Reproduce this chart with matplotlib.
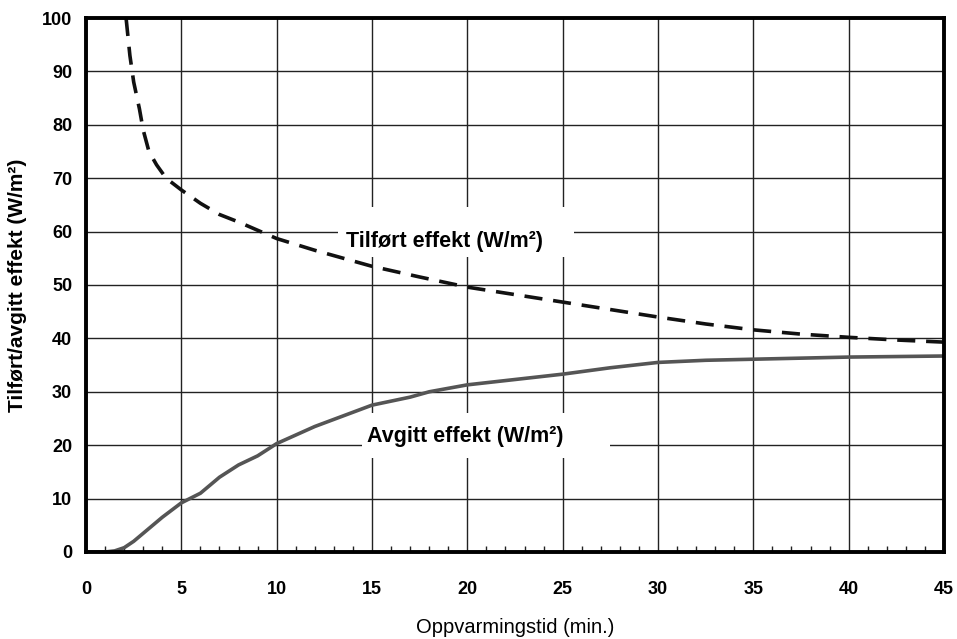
import matplotlib.pyplot as plt
from matplotlib.patches import Rectangle
from matplotlib.ticker import MultipleLocator

plt.rcParams["font.family"] = ["Liberation Sans", "DejaVu Sans"]

# Tilført effekt (dashed)
supplied_x = [2.1, 2.3, 2.5, 2.8, 3.0, 3.3, 3.7, 4.2, 5.0, 6.0, 7.0, 8.0, 10.0, 12.0,
              15.0, 17.5, 20.0, 22.5, 25.0, 27.5, 30.0, 32.5, 35.0, 37.5, 40.0, 42.5, 45.0]
supplied_y = [100, 93, 88, 83, 79, 75, 72.5, 70, 67.8, 65.3, 63.2, 61.8, 58.7, 56.5,
              53.5, 51.5, 49.6, 48.2, 46.8, 45.4, 44.0, 42.7, 41.6, 40.8, 40.2, 39.7, 39.3]

# Avgitt effekt (solid)
emitted_x = [0, 1.0, 1.5, 2.0, 2.5, 3.0, 4.0, 5.0, 6.0, 7.0, 8.0, 9.0, 10.0, 12.0,
             15.0, 17.0, 18.0, 20.0, 22.5, 25.0, 27.5, 30.0, 32.5, 35.0, 40.0, 45.0]
emitted_y = [0, 0, 0.2, 0.8, 2.0, 3.5, 6.5, 9.2, 11.0, 14.0, 16.3, 18.0, 20.3, 23.5,
             27.5, 29.0, 30.0, 31.3, 32.3, 33.3, 34.5, 35.5, 35.9, 36.1, 36.5, 36.7]

x_ticks = [0, 5, 10, 15, 20, 25, 30, 35, 40, 45]
y_ticks = [0, 10, 20, 30, 40, 50, 60, 70, 80, 90, 100]

fig = plt.figure(figsize=(9.57, 6.39), dpi=100)
ax = fig.add_axes([0.0899, 0.1362, 0.8965, 0.8356])

ax.set_xlim(0, 45)
ax.set_ylim(0, 100)
ax.set_xticks(x_ticks)
ax.set_yticks(y_ticks)
ax.xaxis.set_minor_locator(MultipleLocator(1))
ax.grid(True, which="major", color="#222222", linewidth=1.0, zorder=0)
ax.set_axisbelow(True)

ax.tick_params(axis="both", which="major", length=0, labelsize=13)
ax.tick_params(axis="x", which="major", pad=21)
ax.tick_params(axis="y", which="major", pad=10)
ax.tick_params(axis="x", which="minor", direction="in", length=4, width=1, color="#222222")
for lbl in ax.get_xticklabels() + ax.get_yticklabels():
    lbl.set_fontweight("bold")

for s in ax.spines.values():
    s.set_linewidth(2.8)
    s.set_color("black")
    s.set_zorder(5)

# white boxes behind the labels, they hide the grid
ax.add_patch(Rectangle((13.2, 55.2), 12.4, 9.4, facecolor="white", edgecolor="none", zorder=1))
ax.add_patch(Rectangle((14.5, 17.6), 13.0, 8.4, facecolor="white", edgecolor="none", zorder=1))

ax.plot(supplied_x, supplied_y, color="#111111", linewidth=2.6, dashes=(5, 3), zorder=3)
ax.plot(emitted_x, emitted_y, color="#555555", linewidth=2.6, zorder=3)

ax.text(18.8, 58.2, "Tilført effekt (W/m²)", fontsize=15.5, fontweight="bold",
        ha="center", va="center", zorder=4)
ax.text(19.9, 21.6, "Avgitt effekt (W/m²)", fontsize=15.5, fontweight="bold",
        ha="center", va="center", zorder=4)

ax.set_xlabel("Oppvarmingstid (min.)", fontsize=14.5, labelpad=14)
ax.set_ylabel("Tilført/avgitt effekt (W/m²)", fontsize=15, fontweight="bold", labelpad=11)

fig.savefig("out.png", dpi=100)
